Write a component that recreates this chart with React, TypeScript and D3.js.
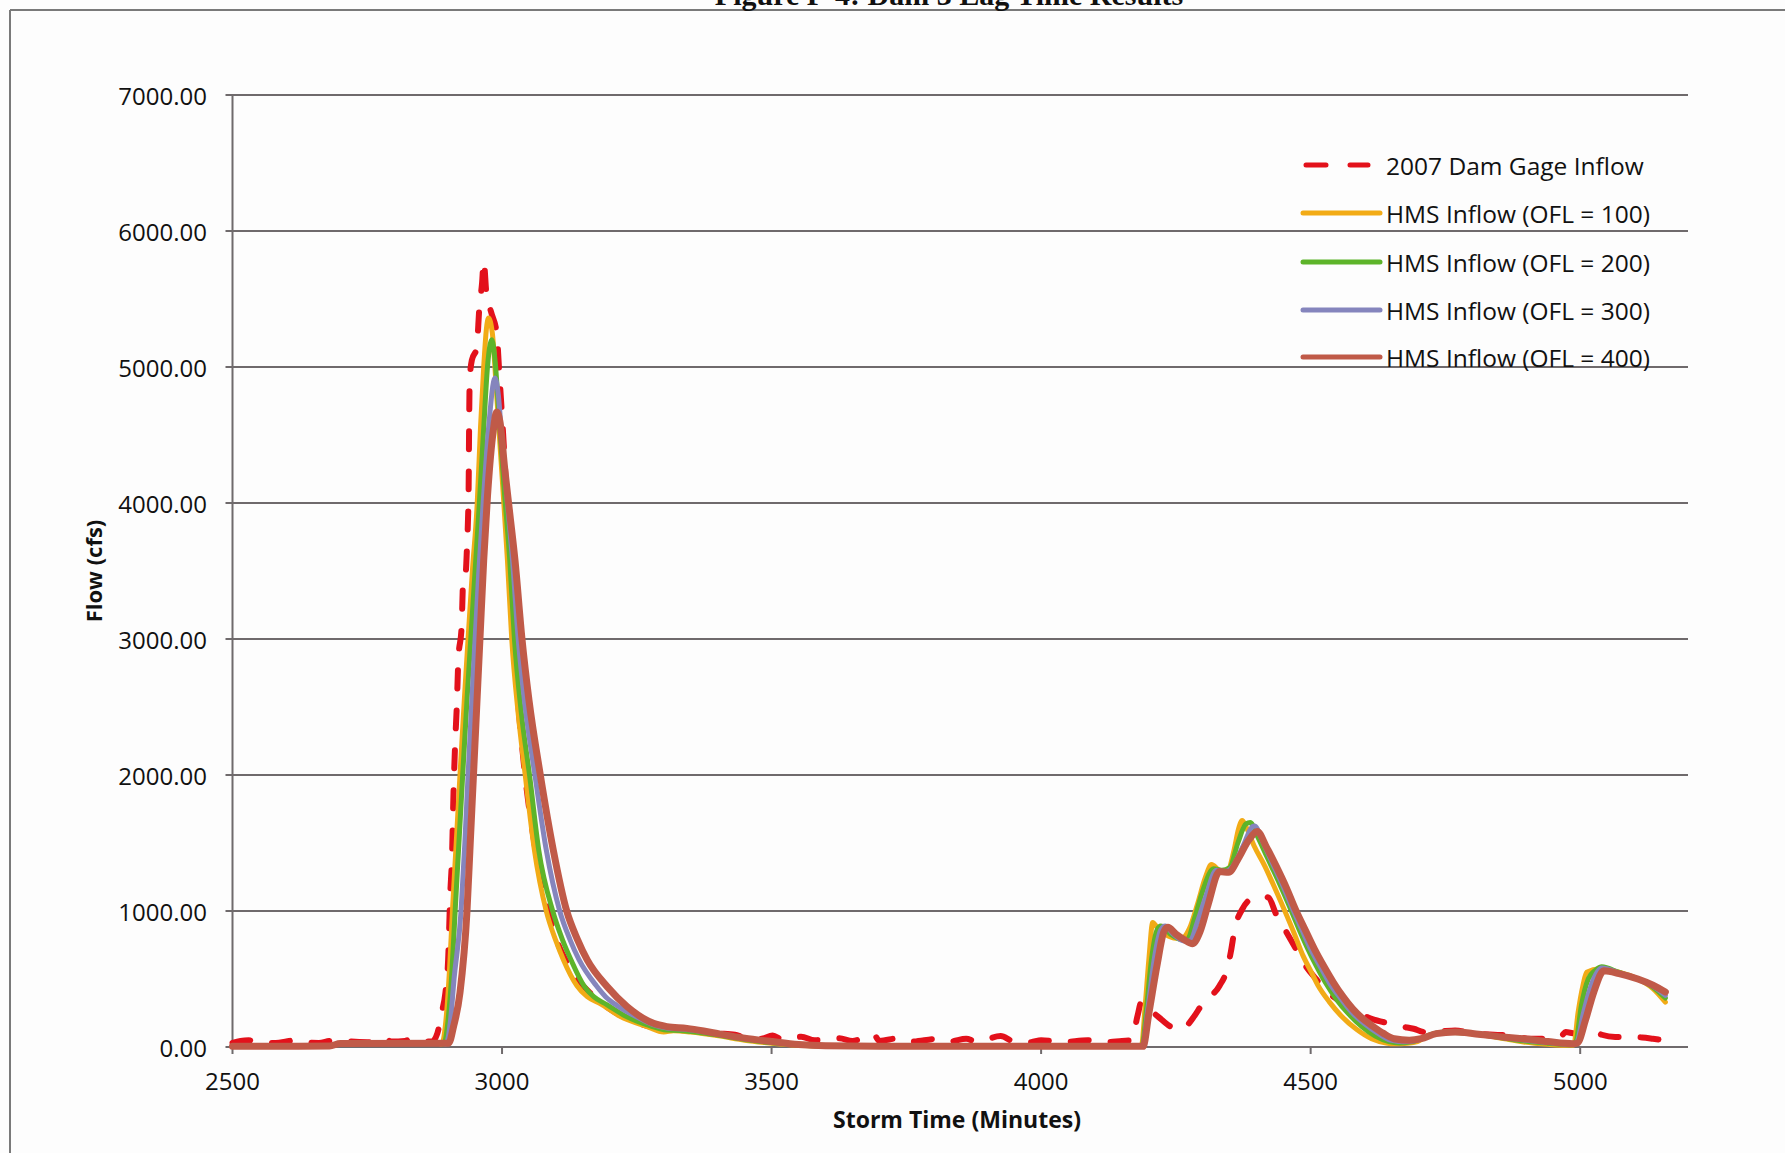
import React from "react";
import * as d3 from "d3";

type Pt = [number, number];

const xTicks = [2500, 3000, 3500, 4000, 4500, 5000];
const yTicks = [0, 1000, 2000, 3000, 4000, 5000, 6000, 7000];

const seriesNames = [
  "2007 Dam Gage Inflow",
  "HMS Inflow (OFL = 100)",
  "HMS Inflow (OFL = 200)",
  "HMS Inflow (OFL = 300)",
  "HMS Inflow (OFL = 400)",
];
const seriesColors = ["#e3111b", "#f2ab16", "#5db42a", "#8585bd", "#c05a48"];

const observed: Pt[] = [
  [2500, 30], [2515, 45], [2530, 50], [2545, 35], [2580, 30], [2600, 40], [2615, 50], [2630, 35],
  [2660, 30], [2680, 45], [2700, 50], [2720, 40], [2750, 35], [2770, 50], [2780, 70], [2795, 40],
  [2820, 45], [2835, 65], [2850, 45], [2870, 40], [2880, 100], [2888, 250], [2895, 400], [2900, 640],
  [2904, 1130], [2907, 1380], [2910, 1870], [2913, 2230], [2916, 2500], [2919, 2850], [2925, 3090],
  [2928, 3430], [2932, 3460], [2935, 3680], [2938, 4100], [2939, 4600], [2940, 4900], [2944, 5050],
  [2953, 5140], [2958, 5440], [2963, 5620], [2966, 5780], [2971, 5540], [2980, 5400], [2990, 5250],
  [2995, 4950], [3005, 4300], [3015, 3500], [3025, 2800], [3040, 2100], [3060, 1500], [3080, 1100],
  [3100, 800], [3114, 670], [3140, 500], [3164, 395], [3200, 280], [3250, 180], [3300, 130],
  [3350, 120], [3400, 100], [3432, 90], [3450, 70], [3480, 60], [3502, 85], [3520, 55], [3555, 75],
  [3580, 50], [3625, 65], [3650, 45], [3689, 95], [3700, 45], [3737, 65], [3760, 40], [3807, 60],
  [3830, 40], [3861, 60], [3880, 40], [3925, 80], [3950, 40], [3980, 35], [4000, 50], [4040, 35],
  [4086, 50], [4120, 35], [4150, 45], [4168, 50], [4179, 232], [4186, 330], [4200, 280], [4218, 220],
  [4242, 146], [4255, 130], [4267, 146], [4285, 232], [4300, 320], [4309, 354], [4331, 451],
  [4345, 573], [4352, 700], [4359, 866], [4373, 1012], [4390, 1090], [4398, 1098], [4410, 1110],
  [4422, 1098], [4436, 976], [4450, 880], [4470, 740], [4490, 600], [4510, 500], [4530, 410],
  [4556, 329], [4570, 280], [4585, 256], [4613, 207], [4648, 171], [4670, 150], [4691, 134],
  [4712, 110], [4740, 115], [4768, 122], [4800, 100], [4840, 90], [4881, 85], [4902, 61], [4945, 61],
  [4966, 85], [4973, 110], [4990, 100], [5008, 110], [5022, 122], [5040, 90], [5065, 73], [5093, 73],
  [5115, 70], [5135, 61], [5157, 49],
];

const hms100: Pt[] = [
  [2500, 5], [2600, 5], [2680, 8], [2700, 25], [2880, 28], [2888, 22], [2896, 200], [2903, 600],
  [2908, 1000], [2915, 1500], [2922, 2000], [2930, 2550], [2937, 3000], [2945, 3500], [2954, 4000],
  [2960, 4550], [2966, 5000], [2971, 5280], [2975, 5360], [2982, 5250], [2990, 4800], [3000, 4200],
  [3010, 3580], [3018, 3000], [3030, 2450], [3043, 2000], [3060, 1450], [3082, 1000], [3100, 780],
  [3114, 640], [3139, 450], [3158, 370], [3182, 320], [3219, 225], [3269, 150], [3300, 110],
  [3318, 120], [3350, 110], [3405, 80], [3450, 50], [3500, 28], [3550, 12], [3600, 6], [3800, 4],
  [4000, 4], [4186, 4], [4193, 300], [4200, 650], [4207, 915], [4215, 880], [4230, 830],
  [4250, 800], [4263, 805], [4275, 870], [4290, 1050], [4305, 1250], [4316, 1341], [4330, 1300],
  [4345, 1285], [4358, 1450], [4366, 1600], [4373, 1665], [4380, 1620], [4395, 1480], [4415, 1330],
  [4430, 1200], [4451, 1010], [4470, 830], [4486, 670], [4500, 560], [4514, 450], [4535, 330],
  [4556, 232], [4585, 130], [4613, 61], [4640, 30], [4655, 24], [4680, 28], [4698, 40], [4719, 85],
  [4754, 110], [4790, 100], [4825, 85], [4860, 60], [4895, 37], [4940, 20], [4980, 12], [4988, 15],
  [4996, 250], [5005, 450], [5012, 550], [5036, 575], [5072, 550], [5107, 500], [5135, 430],
  [5158, 330],
];

const hms200: Pt[] = [
  [2500, 5], [2600, 5], [2680, 8], [2700, 25], [2884, 28], [2892, 22], [2900, 200], [2907, 550],
  [2913, 1000], [2920, 1500], [2927, 2000], [2935, 2550], [2942, 3000], [2950, 3500], [2958, 4000],
  [2966, 4550], [2973, 5000], [2981, 5200], [2987, 5050], [2995, 4600], [3004, 4100], [3014, 3600],
  [3023, 3000], [3036, 2450], [3051, 2000], [3068, 1450], [3094, 1000], [3112, 790], [3128, 640],
  [3152, 450], [3170, 370], [3195, 310], [3230, 225], [3275, 155], [3305, 125], [3330, 122],
  [3370, 105], [3405, 85], [3450, 55], [3500, 32], [3550, 14], [3600, 7], [4000, 5], [4187, 5],
  [4196, 300], [4205, 650], [4215, 860], [4222, 890], [4240, 830], [4260, 790], [4271, 790],
  [4285, 950], [4300, 1150], [4320, 1310], [4335, 1300], [4350, 1320], [4365, 1500], [4380, 1640],
  [4388, 1650], [4400, 1560], [4420, 1390], [4440, 1220], [4460, 1040], [4478, 870], [4495, 720],
  [4510, 600], [4528, 470], [4548, 350], [4570, 245], [4595, 150], [4620, 80], [4645, 40],
  [4665, 30], [4690, 40], [4715, 80], [4745, 108], [4780, 105], [4825, 86], [4860, 65], [4895, 45],
  [4940, 28], [4983, 16], [4992, 40], [5002, 300], [5015, 500], [5030, 570], [5040, 590],
  [5072, 548], [5107, 500], [5135, 440], [5158, 360],
];

const hms300: Pt[] = [
  [2500, 5], [2600, 5], [2680, 8], [2700, 25], [2888, 28], [2896, 22], [2904, 180], [2911, 500],
  [2924, 1000], [2931, 1500], [2937, 2000], [2944, 2550], [2950, 3000], [2957, 3500], [2965, 4000],
  [2975, 4550], [2987, 4920], [2993, 4800], [3000, 4450], [3010, 4000], [3019, 3600], [3030, 3000],
  [3043, 2500], [3061, 2000], [3082, 1450], [3107, 1000], [3126, 790], [3143, 640], [3175, 450],
  [3192, 370], [3215, 300], [3250, 220], [3280, 165], [3306, 140], [3340, 130], [3374, 112],
  [3405, 90], [3450, 60], [3500, 36], [3550, 16], [3600, 8], [4000, 5], [4188, 5], [4198, 280],
  [4210, 650], [4222, 860], [4230, 890], [4245, 830], [4265, 780], [4276, 780], [4290, 920],
  [4305, 1100], [4325, 1300], [4342, 1290], [4356, 1330], [4375, 1480], [4392, 1620], [4396, 1625],
  [4410, 1520], [4428, 1360], [4448, 1190], [4466, 1020], [4484, 860], [4500, 720], [4518, 590],
  [4535, 470], [4555, 360], [4575, 260], [4600, 170], [4625, 100], [4648, 50], [4672, 38],
  [4698, 50], [4725, 90], [4757, 110], [4790, 102], [4825, 87], [4860, 68], [4895, 52], [4940, 33],
  [4985, 20], [4993, 30], [5006, 250], [5020, 450], [5040, 580], [5072, 545], [5107, 500],
  [5135, 448], [5158, 380],
];

const hms400: Pt[] = [
  [2500, 5], [2600, 5], [2680, 8], [2700, 25], [2893, 28], [2901, 28], [2910, 150], [2922, 400],
  [2935, 1000], [2941, 1500], [2947, 2000], [2953, 2500], [2959, 3000], [2966, 3580], [2973, 4050],
  [2984, 4540], [2990, 4670], [2996, 4600], [3005, 4250], [3015, 3900], [3024, 3580], [3037, 3000],
  [3050, 2550], [3071, 2000], [3095, 1450], [3120, 1000], [3140, 790], [3158, 640], [3195, 444],
  [3232, 297], [3281, 174], [3306, 150], [3343, 137], [3374, 118], [3405, 95], [3450, 65],
  [3500, 40], [3550, 18], [3600, 9], [3700, 6], [4000, 5], [4189, 5], [4200, 250], [4215, 600],
  [4228, 850], [4235, 880], [4250, 830], [4265, 790], [4281, 760], [4295, 850], [4310, 1050],
  [4331, 1290], [4348, 1285], [4365, 1380], [4385, 1520], [4401, 1585], [4418, 1470], [4436, 1330],
  [4455, 1170], [4472, 1010], [4490, 860], [4507, 720], [4525, 590], [4542, 476], [4560, 370],
  [4578, 280], [4596, 210], [4613, 159], [4635, 100], [4655, 61], [4683, 50], [4705, 61],
  [4733, 98], [4768, 110], [4800, 100], [4825, 88], [4860, 72], [4895, 61], [4940, 40], [4987, 24],
  [4995, 30], [5010, 200], [5025, 400], [5044, 560], [5072, 540], [5107, 500], [5135, 455],
  [5158, 405],
];

const allSeries: Pt[][] = [observed, hms100, hms200, hms300, hms400];

const W = 1785;
const H = 1153;

export default function App() {
  const left = 232.5;
  const right = 1688;
  const top = 95;
  const bottom = 1047;
  const x = d3.scaleLinear().domain([2500, 5200]).range([left, right]);
  const y = d3.scaleLinear().domain([0, 7000]).range([bottom, top]);
  const line = d3
    .line<Pt>()
    .x((d) => x(d[0]))
    .y((d) => y(d[1]))
    .curve(d3.curveMonotoneX);
  const fmt = d3.format(".2f");
  const font = "'Open Sans', sans-serif";
  const gridColor = "#6f6a6c";
  const legendRows = [165, 213, 262, 310, 357];
  const widths = [6, 5, 5, 5, 7];

  return (
    <svg
      width={W}
      height={H}
      viewBox={`0 0 ${W} ${H}`}
      style={{ position: "absolute", left: 0, top: 0, background: "#fdfdfd" }}
    >
      <rect x={0} y={0} width={W} height={H} fill="#fdfdfd" />
      {/* page frame */}
      <line x1={10} y1={10} x2={W} y2={10} stroke="#7a7a7a" strokeWidth={2} />
      <line x1={10} y1={10} x2={10} y2={H} stroke="#7a7a7a" strokeWidth={2} />
      <text
        x={949}
        y={5}
        textAnchor="middle"
        fontFamily="'Liberation Serif', serif"
        fontWeight="bold"
        fontSize={30}
        fill="#111"
      >
        Figure F-4: Dam 3 Lag Time Results
      </text>

      {/* gridlines and y ticks */}
      {yTicks.map((t) => (
        <g key={"y" + t}>
          <line x1={left - 7} x2={right} y1={y(t)} y2={y(t)} stroke={gridColor} strokeWidth={2} />
          <text
            x={207}
            y={y(t)}
            textAnchor="end"
            dominantBaseline="central"
            fontFamily={font}
            fontSize={24}
            fill="#111"
          >
            {fmt(t)}
          </text>
        </g>
      ))}
      <line x1={left} x2={left} y1={top} y2={bottom} stroke={gridColor} strokeWidth={2} />
      {xTicks.map((t) => (
        <g key={"x" + t}>
          <line x1={x(t)} x2={x(t)} y1={bottom} y2={bottom + 7} stroke={gridColor} strokeWidth={2} />
          <text x={x(t)} y={1090} textAnchor="middle" fontFamily={font} fontSize={24} fill="#111">
            {t}
          </text>
        </g>
      ))}

      {/* series */}
      {allSeries.map((s, i) => (
        <path
          key={"s" + i}
          d={line(s) || ""}
          fill="none"
          stroke={seriesColors[i]}
          strokeWidth={widths[i]}
          strokeDasharray={i === 0 ? "18 22" : undefined}
          strokeLinecap="round"
          strokeLinejoin="round"
        />
      ))}

      {/* legend */}
      {seriesNames.map((n, i) => (
        <g key={"l" + i}>
          <line
            x1={i === 0 ? 1306 : 1303}
            x2={i === 0 ? 1368 : 1380}
            y1={legendRows[i]}
            y2={legendRows[i]}
            stroke={seriesColors[i]}
            strokeWidth={5}
            strokeDasharray={i === 0 ? "20 24" : undefined}
            strokeLinecap="round"
          />
          <text
            x={1386}
            y={legendRows[i]}
            dominantBaseline="central"
            fontFamily={font}
            fontSize={24.5}
            fill="#111"
          >
            {n}
          </text>
        </g>
      ))}

      {/* axis titles */}
      <text
        x={957}
        y={1128}
        textAnchor="middle"
        fontFamily={font}
        fontWeight="bold"
        fontSize={23}
        fill="#111"
      >
        Storm Time (Minutes)
      </text>
      <text
        transform={`translate(102, 571) rotate(-90)`}
        textAnchor="middle"
        fontFamily={font}
        fontWeight="bold"
        fontSize={22}
        fill="#111"
      >
        Flow (cfs)
      </text>
    </svg>
  );
}
